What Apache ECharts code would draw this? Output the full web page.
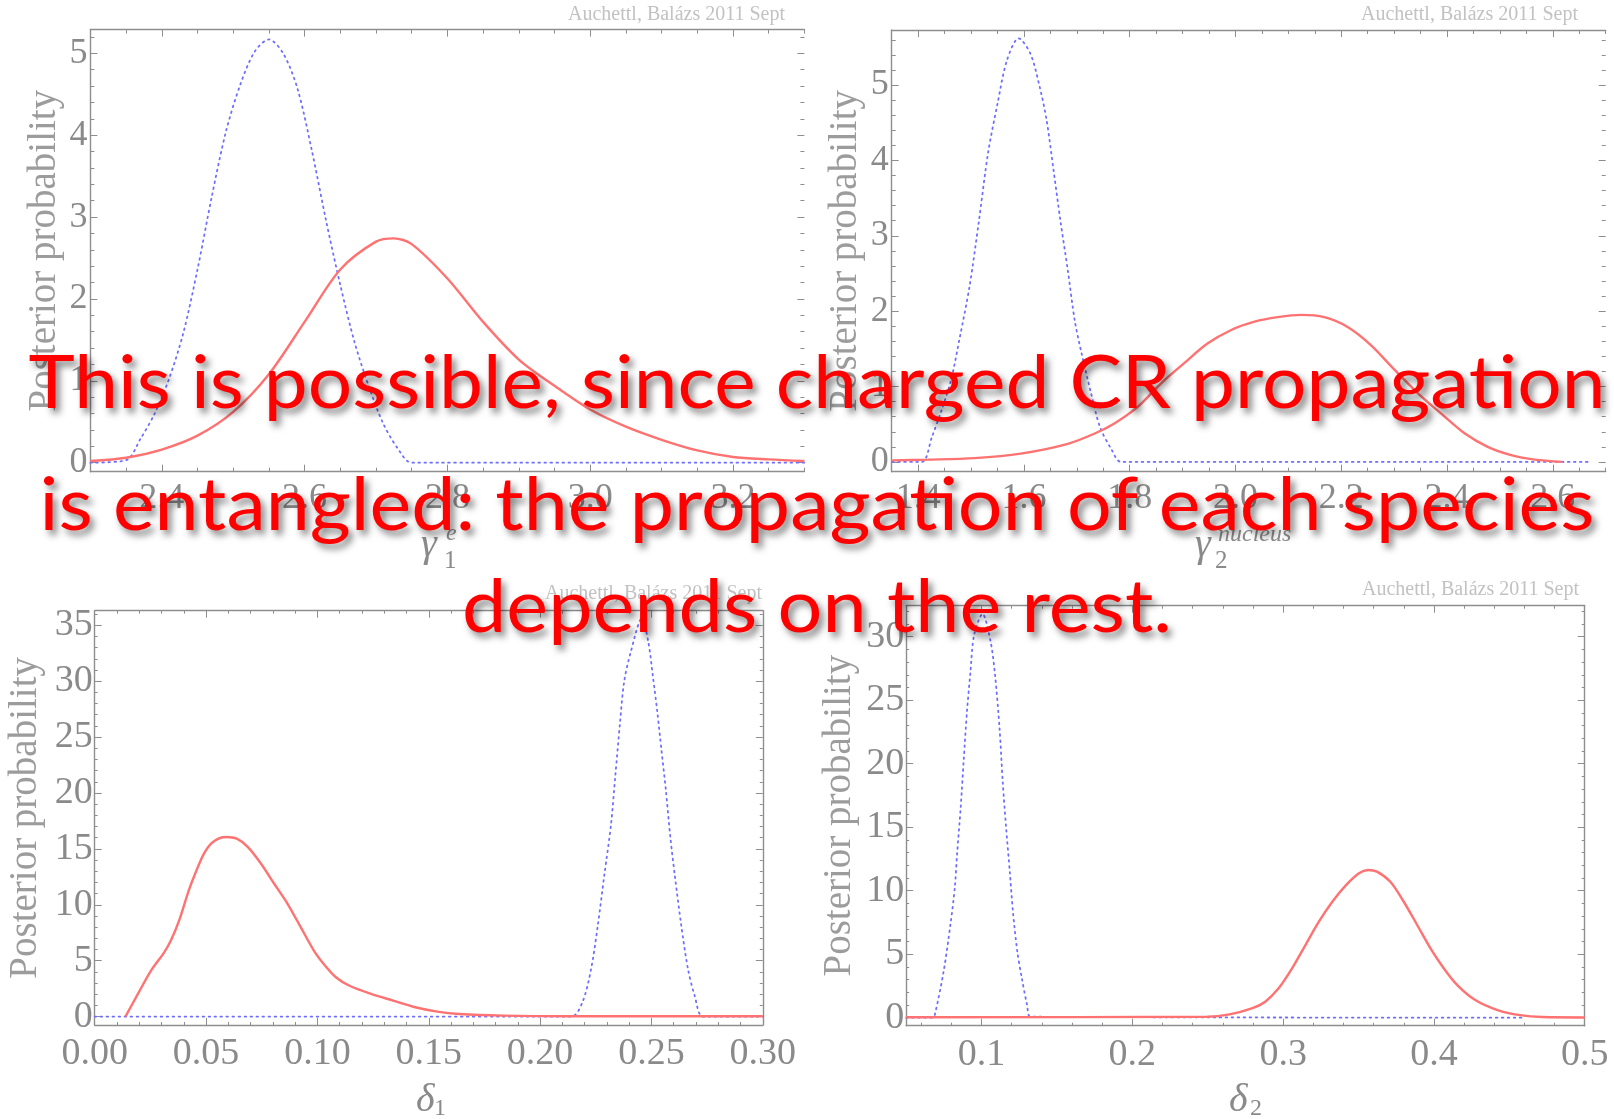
<!DOCTYPE html>
<html><head><meta charset="utf-8">
<script src="https://cdn.jsdelivr.net/npm/echarts@6/dist/echarts.min.js"></script>
<style>html,body{margin:0;padding:0;background:#fff}#c{width:1614px;height:1119px}</style>
</head><body><div id="c"></div>
<script>
// ---------- data ----------
// Panel 1: gamma_1^e
const p1BlueX = [2.30, 2.35, 2.37, 2.39, 2.41, 2.43, 2.45, 2.47, 2.49, 2.51, 2.53, 2.55, 2.57, 2.59, 2.61, 2.63, 2.65, 2.67, 2.69, 2.71, 2.73, 2.75, 3.30];
const p1BlueY = [0, 0.03, 0.29, 0.60, 1.02, 1.58, 2.36, 3.25, 4.05, 4.62, 5.02, 5.17, 5.00, 4.57, 3.82, 2.96, 2.17, 1.47, 0.93, 0.48, 0.18, 0.0, 0];
const p1RedX = [2.30, 2.35, 2.40, 2.45, 2.50, 2.55, 2.60, 2.65, 2.70, 2.725, 2.75, 2.80, 2.85, 2.90, 2.95, 3.00, 3.05, 3.10, 3.15, 3.20, 3.25, 3.30];
const p1RedY = [0.02, 0.06, 0.16, 0.33, 0.62, 1.08, 1.72, 2.36, 2.70, 2.74, 2.67, 2.25, 1.72, 1.26, 0.94, 0.65, 0.44, 0.28, 0.15, 0.07, 0.04, 0.02];
// Panel 2: gamma_2^nucleus
const p2BlueX = [1.351, 1.407, 1.426, 1.444, 1.462, 1.479, 1.497, 1.515, 1.532, 1.550, 1.568, 1.590, 1.612, 1.630, 1.643, 1.656, 1.669, 1.683, 1.696, 1.709, 1.727, 1.744, 1.766, 1.784, 2.671];
const p2BlueY = [0, 0, 0.33, 0.68, 1.08, 1.66, 2.32, 3.20, 4.09, 4.75, 5.33, 5.62, 5.42, 4.97, 4.53, 3.87, 3.20, 2.54, 1.88, 1.44, 0.91, 0.46, 0.16, 0, 0];
const p2RedX = [1.351, 1.418, 1.506, 1.594, 1.683, 1.735, 1.771, 1.815, 1.859, 1.903, 1.947, 1.992, 2.036, 2.080, 2.124, 2.168, 2.212, 2.256, 2.301, 2.345, 2.389, 2.433, 2.477, 2.521, 2.566, 2.618];
const p2RedY = [0.02, 0.03, 0.05, 0.11, 0.24, 0.38, 0.51, 0.73, 1.04, 1.31, 1.57, 1.75, 1.86, 1.92, 1.95, 1.92, 1.79, 1.55, 1.22, 0.91, 0.64, 0.38, 0.20, 0.09, 0.03, 0.0];
// Panel 3: delta_1
const p3BlueX = [0, 0.214, 0.219, 0.2229, 0.2259, 0.2288, 0.2318, 0.2338, 0.2358, 0.2377, 0.2407, 0.2457, 0.2486, 0.2506, 0.2526, 0.2545, 0.2565, 0.2585, 0.2605, 0.2634, 0.2664, 0.2694, 0.2733, 0.30];
const p3BlueY = [0, 0, 1.28, 4.26, 8.14, 12.6, 17.1, 21.6, 26.1, 29.9, 32.6, 35.6, 33.5, 30.5, 27.3, 23.8, 20.2, 16.0, 12.6, 8.14, 4.26, 1.88, 0, 0];
const p3RedX = [0.0138, 0.0194, 0.0253, 0.0312, 0.0342, 0.0381, 0.0421, 0.0451, 0.0490, 0.0530, 0.0589, 0.0638, 0.0688, 0.0747, 0.0806, 0.0866, 0.0925, 0.0984, 0.1034, 0.1083, 0.1142, 0.1241, 0.1340, 0.1439, 0.1538, 0.1636, 0.1834, 0.2130, 0.30];
const p3RedY = [0, 2.03, 4.11, 5.75, 6.8, 8.7, 11.2, 12.77, 14.56, 15.6, 16.06, 15.91, 15.16, 13.67, 11.88, 10.09, 8.0, 5.91, 4.57, 3.52, 2.78, 2.03, 1.43, 0.84, 0.45, 0.24, 0.09, 0.03, 0.03];
// Panel 4: delta_2
const p4BlueX = [0.05, 0.0674, 0.0689, 0.0748, 0.0793, 0.0822, 0.0837, 0.0861, 0.0882, 0.0903, 0.0926, 0.0950, 0.1006, 0.1060, 0.1089, 0.1119, 0.1140, 0.1163, 0.1187, 0.1208, 0.1237, 0.1267, 0.1302, 0.1326, 0.46];
const p4BlueY = [0, 0, 0.2, 3.63, 7.3, 10.2, 12.8, 16.5, 20.4, 24.1, 27.2, 30.1, 31.8, 29.6, 27.0, 22.8, 18.6, 14.9, 11.5, 8.35, 5.2, 3.1, 1.0, 0.08, 0];
const p4RedX = [0.05, 0.2496, 0.2644, 0.2792, 0.2881, 0.2970, 0.3059, 0.3148, 0.3237, 0.3326, 0.3414, 0.3503, 0.3563, 0.3622, 0.3711, 0.3800, 0.3889, 0.3977, 0.4066, 0.4155, 0.4274, 0.4422, 0.4570, 0.4718, 0.5];
const p4RedY = [0.03, 0.08, 0.26, 0.73, 1.26, 2.31, 3.88, 5.72, 7.56, 9.13, 10.4, 11.37, 11.63, 11.5, 10.7, 9.13, 7.3, 5.46, 3.88, 2.57, 1.39, 0.6, 0.2, 0.05, 0.02];

// tick labels
const p1XTicks = [2.4, 2.6, 2.8, 3.0, 3.2];
const p1YTicks = [0, 1, 2, 3, 4, 5];
const p2XTicks = [1.4, 1.6, 1.8, 2.0, 2.2, 2.4, 2.6];
const p2YTicks = [0, 1, 2, 3, 4, 5];
const p3XTicks = [0, 0.05, 0.10, 0.15, 0.20, 0.25, 0.30];
const p3YTicks = [0, 5, 10, 15, 20, 25, 30, 35];
const p4XTicks = [0.1, 0.2, 0.3, 0.4, 0.5];
const p4YTicks = [0, 5, 10, 15, 20, 25, 30];

const overlayLines = [
  'This is possible, since charged CR propagation',
  'is entangled: the propagation of each species',
  'depends on the rest.'
];
const yTitle = 'Posterior probability';
const watermark = 'Auchettl, Balázs 2011 Sept';

// ---------- layout ----------
const frame = '#8e8e8e';
const labelColor = '#8a8a8a';
const serif = 'Liberation Serif';

function minorTicks(a, b, s, majors) {
  const out = [];
  for (let k = Math.ceil(a / s - 1e-9); k * s <= b + 1e-9; k++) {
    const v = +(k * s).toFixed(6);
    if (!majors.some(m => Math.abs(m - v) < 1e-6)) out.push(v);
  }
  return out;
}

const panels = [
  {grid: {left: 90.4, top: 29.6, width: 714, height: 442.1}, xr: [2.3, 3.3], yr: [-0.11, 5.29],
   xt: p1XTicks, yt: p1YTicks, xs: 0.05, ys: 0.2, xd: 1, fs: 36, rightLine: false, nameGap: 26, ylm: 3, xlm: 9, majL: 7, minL: 4,
   blue: [p1BlueX, p1BlueY], red: [p1RedX, p1RedY]},
  {grid: {left: 891.7, top: 30, width: 714, height: 441.7}, xr: [1.35, 2.7], yr: [-0.13, 5.73],
   xt: p2XTicks, yt: p2YTicks, xs: 0.05, ys: 0.2, xd: 1, fs: 36, rightLine: false, nameGap: 26, ylm: 3, xlm: 9, majL: 7, minL: 4,
   blue: [p2BlueX, p2BlueY], red: [p2RedX, p2RedY]},
  {grid: {left: 94.7, top: 610.7, width: 668.1, height: 414.3}, xr: [0, 0.3], yr: [-0.75, 36.3],
   xt: p3XTicks, yt: p3YTicks, xs: 0.01, ys: 1, xd: 2, fs: 38, rightLine: true, nameGap: 49, ylm: 2, xlm: 10, majL: 7, minL: 3,
   blue: [p3BlueX, p3BlueY], red: [p3RedX, p3RedY]},
  {grid: {left: 906.2, top: 605.7, width: 678.5, height: 420}, xr: [0.05, 0.5], yr: [-0.63, 32.44],
   xt: p4XTicks, yt: p4YTicks, xs: 0.02, ys: 1, xd: 1, fs: 38, rightLine: true, nameGap: 47, ylm: 2, xlm: 10, majL: 7, minL: 3,
   blue: [p4BlueX, p4BlueY], red: [p4RedX, p4RedY]}
];

const grids = [], xAxes = [], yAxes = [], series = [];
panels.forEach((p, gi) => {
  grids.push(Object.assign({containLabel: false, show: false}, p.grid));
  const xMinor = minorTicks(p.xr[0], p.xr[1], p.xs, p.xt);
  const yMinor = minorTicks(Math.max(0, p.yr[0]), p.yr[1], p.ys, p.yt);
  const ax = (pos, ticks, len, line, label, extra) => Object.assign({
    gridIndex: gi, type: 'value', position: pos, scale: true,
    axisLine: {show: line, onZero: false, lineStyle: {color: frame, width: 1.4}},
    axisTick: {show: true, inside: true, length: len, customValues: ticks, lineStyle: {color: frame, width: 1}},
    axisLabel: label || {show: false},
    splitLine: {show: false}
  }, extra);
  const xl = {show: true, customValues: p.xt, showMinLabel: true, showMaxLabel: true,
    formatter: v => (+v).toFixed(p.xd), fontFamily: serif, fontSize: p.fs, color: labelColor, margin: p.xlm};
  const yl = {show: true, customValues: p.yt, showMinLabel: true, showMaxLabel: true,
    formatter: v => String(Math.round(v)), fontFamily: serif, fontSize: p.fs, color: labelColor, margin: p.ylm};
  const xr = {min: p.xr[0], max: p.xr[1]};
  const yr = {min: p.yr[0], max: p.yr[1]};
  xAxes.push(ax('bottom', p.xt, p.majL, true, xl, xr));
  xAxes.push(ax('top', p.xt, p.majL, true, null, xr));
  xAxes.push(ax('bottom', xMinor, p.minL, false, null, xr));
  xAxes.push(ax('top', xMinor, p.minL, false, null, xr));
  yAxes.push(ax('left', p.yt, p.majL, true, yl, Object.assign({
    name: yTitle, nameLocation: 'middle', nameGap: p.nameGap,
    nameTextStyle: {fontFamily: serif, fontSize: 39, color: '#9c9c9c'}}, yr)));
  yAxes.push(ax('right', p.yt, p.majL, p.rightLine, null, yr));
  yAxes.push(ax('left', yMinor, p.minL, false, null, yr));
  yAxes.push(ax('right', yMinor, p.minL, false, null, yr));
  const zip = (a) => a[0].map((v, i) => [v, a[1][i]]);
  series.push({type: 'line', xAxisIndex: gi * 4, yAxisIndex: gi * 4, data: zip(p.blue),
    symbol: 'none', smooth: 0.3, silent: true, z: 2,
    lineStyle: {color: '#6e6eff', width: 1.8, type: [1.6, 4.4], cap: 'round'}});
  series.push({type: 'line', xAxisIndex: gi * 4, yAxisIndex: gi * 4, data: zip(p.red),
    symbol: 'none', smooth: 0.3, silent: true, z: 3,
    lineStyle: {color: '#ff7272', width: 2.4}});
});

// axis symbols and watermarks
const gray = '#8a8a8a';
function t(x, y, text, size, italic, align, color) {
  return {type: 'text', x: x, y: y, z: 50, silent: true,
    style: {text: text, fill: color || gray, font: (italic ? 'italic ' : '') + size + 'px "' + serif + '"',
      textAlign: align || 'left', textVerticalAlign: 'middle'}};
}
const graphics = [
  t(421, 545, 'γ', 40, true), t(444, 561, '1', 25, false), t(446, 534, 'e', 24, true),
  t(1195, 545, 'γ', 40, true), t(1215, 561, '2', 25, false), t(1218, 535, 'nucleus', 24, true),
  t(416, 1100, 'δ', 40, true), t(434, 1109, '1', 24, false),
  t(1229, 1100, 'δ', 40, true), t(1250, 1109, '2', 24, false),
  t(785, 15, watermark, 20, false, 'right', '#c2c2c2'),
  t(1578, 15, watermark, 20, false, 'right', '#c2c2c2'),
  t(762, 594, watermark, 20, false, 'right', '#c2c2c2'),
  t(1579, 590, watermark, 20, false, 'right', '#c2c2c2')
];

// overlay red text
const ovFont = '74px Lato';
const ctx = document.createElement('canvas').getContext('2d');
ctx.font = ovFont;
const targetW = [1577, 1555, 710];
const midY = [384, 506, 608];
overlayLines.forEach((s, i) => {
  const w = ctx.measureText(s).width || targetW[i];
  graphics.push({type: 'text', x: 817, y: midY[i], z: 100, silent: true,
    scaleX: targetW[i] / w,
    style: {text: s, fill: '#ff0000', font: ovFont, textAlign: 'center', textVerticalAlign: 'middle',
      textShadowColor: 'rgba(0,0,0,0.5)', textShadowBlur: 7, textShadowOffsetX: 4, textShadowOffsetY: 5}});
});

const chart = echarts.init(document.getElementById('c'), null, {renderer: 'canvas'});
chart.setOption({
  animation: false,
  backgroundColor: '#ffffff',
  grid: grids, xAxis: xAxes, yAxis: yAxes, series: series,
  graphic: graphics
});
</script>
</body></html>
